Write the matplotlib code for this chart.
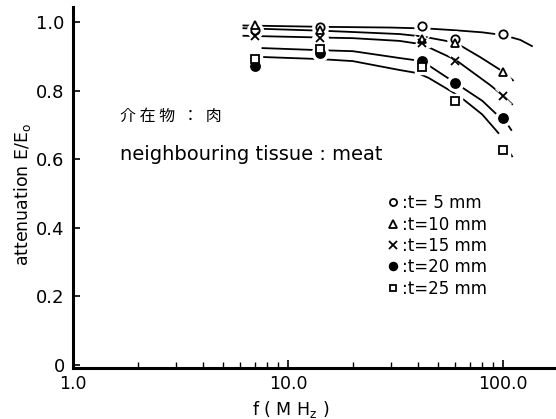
import numpy as np
import matplotlib.pyplot as plt
from matplotlib.ticker import FixedLocator, NullFormatter

plt.rcParams['font.family'] = ['DejaVu Sans', 'Noto Sans CJK JP']

# measured points (frequency in MHz, attenuation E/E0)
freq = [7, 14, 42, 60, 100]
t5 = [0.977, 0.986, 0.988, 0.950, 0.965]
t10 = [0.990, 0.977, 0.950, 0.939, 0.854]
t15 = [0.960, 0.953, 0.939, 0.886, 0.784]
t20 = [0.872, 0.910, 0.886, 0.821, 0.720]
t25 = [0.892, 0.920, 0.868, 0.770, 0.626]

# hand drawn curves
c5_f = [6.2, 15, 30, 45, 60, 80, 100, 120, 136]
c5_v = [0.990, 0.986, 0.984, 0.981, 0.976, 0.970, 0.962, 0.948, 0.930]
c10_f = [6.2, 14, 20, 33, 42, 60, 78, 100, 111]
c10_v = [0.982, 0.975, 0.971, 0.965, 0.958, 0.940, 0.898, 0.855, 0.830]
c15_f = [6.2, 14, 20, 33, 42, 60, 87, 100, 110]
c15_v = [0.960, 0.955, 0.953, 0.945, 0.935, 0.890, 0.816, 0.785, 0.760]
c20_f = [7.6, 14, 20, 33, 42, 60, 80, 92, 100, 109]
c20_v = [0.924, 0.918, 0.915, 0.895, 0.886, 0.822, 0.770, 0.734, 0.720, 0.685]
c25_f = [7.6, 14, 20, 33, 40, 45, 58, 66, 80, 95]
c25_v = [0.898, 0.892, 0.886, 0.860, 0.851, 0.837, 0.796, 0.772, 0.730, 0.676]
# short stroke right of the last square
c25b_f = [103, 110]
c25b_v = [0.636, 0.608]

labels = [':t= 5 mm', ':t=10 mm', ':t=15 mm', ':t=20 mm', ':t=25 mm']

fig = plt.figure(figsize=(5.56, 4.19), dpi=100)
ax = fig.add_axes([73/556, (419-368)/419, (556-73)/556, (368-7)/419])

curves = [(c5_f, c5_v), (c10_f, c10_v), (c15_f, c15_v), (c20_f, c20_v),
          (c25_f, c25_v), (c25b_f, c25b_v)]
for cf, cv in curves:
    ax.plot(cf, cv, color='black', lw=1.3, zorder=1)

styles = [dict(marker='o', mfc='white', ms=6),
          dict(marker='^', mfc='white', ms=6),
          dict(marker='x', mfc='black', ms=6),
          dict(marker='o', mfc='black', ms=6.5),
          dict(marker='s', mfc='white', ms=5.5)]
series = [t5, t10, t15, t20, t25]
handles = []
for s, st, lab in zip(series, styles, labels):
    # white halo so lines break around the marks
    ax.plot(freq, s, ls='none', marker=st['marker'], ms=st['ms'] + 5,
            mfc='white', mec='white', zorder=2)
    h, = ax.plot(freq, s, ls='none', marker=st['marker'], ms=st['ms'],
                 mfc=st['mfc'], mec='black', mew=1.3, zorder=3, label=lab)
    handles.append(h)

ax.set_xscale('log')
ax.set_xlim(1.0, 176)
ax.set_ylim(-0.01, 1.044)

for side in ['top', 'right']:
    ax.spines[side].set_visible(False)
for side in ['left', 'bottom']:
    ax.spines[side].set_linewidth(2.2)

ax.xaxis.set_major_locator(FixedLocator([1, 10, 100]))
ax.xaxis.set_minor_locator(FixedLocator([2, 3, 4, 5, 6, 7, 8, 9,
                                         20, 30, 40, 50, 60, 70, 80, 90]))
ax.xaxis.set_minor_formatter(NullFormatter())
ax.set_xticklabels(['1.0', '10.0', '100.0'])
ax.set_yticks([0, 0.2, 0.4, 0.6, 0.8, 1.0])
ax.set_yticklabels(['0', '0.2', '0.4', '0.6', '0.8', '1.0'])
ax.tick_params(axis='x', which='major', direction='in', length=6, width=1.2,
               labelsize=12.5, pad=5)
ax.tick_params(axis='x', which='minor', direction='in', length=4, width=1)
ax.tick_params(axis='y', direction='in', length=5, width=1.2, labelsize=13, pad=6)

ax.set_xlabel('f ( M H$_\\mathregular{z}$ )', fontsize=12.5)
ax.xaxis.set_label_coords(0.45, -0.085)
ax.set_ylabel('attenuation E/E$_\\mathregular{o}$', fontsize=12.5)
ax.yaxis.set_label_coords(-0.083, 0.48)

ax.text(0.097, 0.697, '介 在 物  ：  肉', transform=ax.transAxes, fontsize=11.5,
        family=['Noto Sans CJK JP'], va='center')
ax.text(0.097, 0.592, 'neighbouring tissue : meat', transform=ax.transAxes,
        fontsize=14, va='center')

ax.legend(handles=handles, loc='upper left', bbox_to_anchor=(0.64, 0.50),
          frameon=False, fontsize=12, handlelength=0.5, handletextpad=0.3,
          labelspacing=0.2, borderaxespad=0, markerscale=0.85)

fig.savefig('out.png', dpi=100)
